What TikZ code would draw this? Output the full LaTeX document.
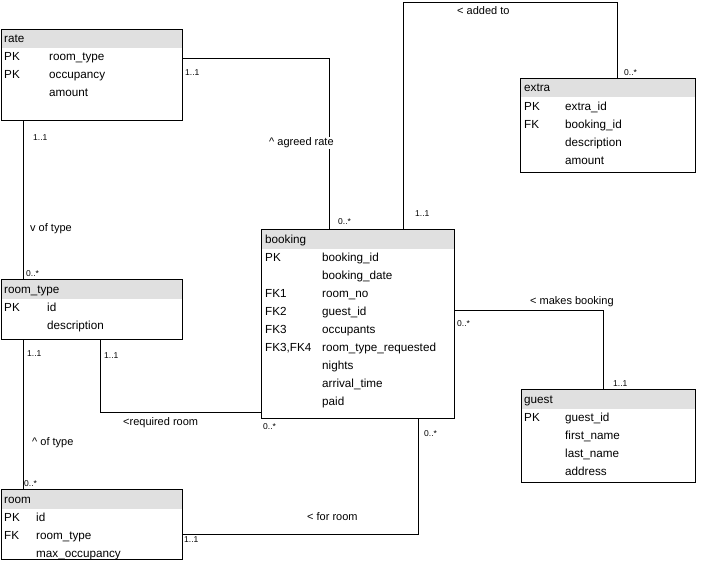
\documentclass[tikz,border=0pt]{standalone}
\usepackage{fontspec}
\setmainfont{Liberation Sans}
\definecolor{hdr}{RGB}{224,224,224}
\begin{document}
\begin{tikzpicture}[x=1pt,y=-1pt,
  entity/.style={draw, line width=1pt, inner sep=0pt, anchor=north west,
    path picture={\fill[hdr] (path picture bounding box.north west) rectangle ([yshift=-19pt]path picture bounding box.north east);}},
  fld/.style={anchor=base west, inner sep=0pt, font=\fontsize{11.7}{14}\selectfont},
  lbl/.style={anchor=base west, inner sep=0pt, font=\fontsize{11}{13}\selectfont},
  mult/.style={anchor=base west, inner sep=0pt, font=\fontsize{8.5}{10}\selectfont},
  conn/.style={line width=1pt}]
\useasboundingbox (0,0) rectangle (703,561);

% entities
\node[entity, minimum width=181pt, minimum height=91pt] (rate) at (1,29) {};
\node[entity, minimum width=175pt, minimum height=94pt] (extra) at (520,78) {};
\node[entity, minimum width=193pt, minimum height=189pt] (booking) at (261,229) {};
\node[entity, minimum width=174pt, minimum height=93pt] (guest) at (521,389) {};
\node[entity, minimum width=181pt, minimum height=60pt] (room_type) at (1,279) {};
\node[entity, minimum width=181pt, minimum height=70pt] (room) at (1,489) {};

% rate
\node[fld] (rate-t) at (4,43) {rate};
\node[fld] (rate-k1) at (4,61) {PK};
\node[fld] (rate-f1) at (49,61) {room\_type};
\node[fld] (rate-k2) at (4,79) {PK};
\node[fld] (rate-f2) at (49,79) {occupancy};
\node[fld] (rate-f3) at (49,97) {amount};

% extra
\node[fld] (extra-t) at (524,92) {extra};
\node[fld] (extra-k1) at (524,111) {PK};
\node[fld] (extra-f1) at (565,111) {extra\_id};
\node[fld] (extra-k2) at (524,129) {FK};
\node[fld] (extra-f2) at (565,129) {booking\_id};
\node[fld] (extra-f3) at (565,147) {description};
\node[fld] (extra-f4) at (565,165) {amount};

% booking
\node[fld] (booking-t) at (265,243) {booking};
\node[fld] (booking-k1) at (265,261) {PK};
\node[fld] (booking-f1) at (322,261) {booking\_id};
\node[fld] (booking-f2) at (322,279) {booking\_date};
\node[fld] (booking-k3) at (265,297) {FK1};
\node[fld] (booking-f3) at (322,297) {room\_no};
\node[fld] (booking-k4) at (265,315) {FK2};
\node[fld] (booking-f4) at (322,315) {guest\_id};
\node[fld] (booking-k5) at (265,333) {FK3};
\node[fld] (booking-f5) at (322,333) {occupants};
\node[fld] (booking-k6) at (265,351) {FK3,FK4};
\node[fld] (booking-f6) at (322,351) {room\_type\_requested};
\node[fld] (booking-f7) at (322,369) {nights};
\node[fld] (booking-f8) at (322,387) {arrival\_time};
\node[fld] (booking-f9) at (322,405) {paid};

% guest
\node[fld] (guest-t) at (524,403) {guest};
\node[fld] (guest-k1) at (524,421) {PK};
\node[fld] (guest-f1) at (565,421) {guest\_id};
\node[fld] (guest-f2) at (565,439) {first\_name};
\node[fld] (guest-f3) at (565,457) {last\_name};
\node[fld] (guest-f4) at (565,475) {address};

% room_type
\node[fld] (rt-t) at (4,293) {room\_type};
\node[fld] (rt-k1) at (4,311) {PK};
\node[fld] (rt-f1) at (47,311) {id};
\node[fld] (rt-f2) at (47,329) {description};

% room
\node[fld] (room-t) at (4,503) {room};
\node[fld] (room-k1) at (4,521) {PK};
\node[fld] (room-f1) at (36,521) {id};
\node[fld] (room-k2) at (4,539) {FK};
\node[fld] (room-f2) at (36,539) {room\_type};
\node[fld] (room-f3) at (36,557) {max\_occupancy};

% connectors
\coordinate (addtop) at (0,3);
\draw[conn] (rate.east |- 0,59) -| (booking.north -| 329,0);
\draw[conn] (rate.south -| 23,0) -- (room_type.north -| 23,0);
\draw[conn] (room_type.south -| 23,0) -- (room.north -| 23,0);
\draw[conn] (room_type.south -| 100,0) |- (booking.west |- 0,412);
\draw[conn] (room.east |- 0,534) -| (booking.south -| 418,0);
\draw[conn] (booking.north -| 403,0) -- (addtop -| 403,0) -| (extra.north -| 617,0);
\draw[conn] (booking.east |- 0,310) -| (guest.north -| 603,0);

% connector labels
\node[lbl, fill=white, inner sep=1pt] (l-agreed) at (268,146) {\textasciicircum{} agreed rate};
\node[lbl] (l-vtype) at (30,231) {v of type};
\node[lbl] (l-oftype) at (32,445) {\textasciicircum{} of type};
\node[lbl] (l-req) at (123,425) {<required room};
\node[lbl] (l-forroom) at (307,520) {< for room};
\node[lbl] (l-added) at (457,15) {< added to};
\node[lbl] (l-makes) at (530,304) {< makes booking};

% multiplicities
\node[mult] (m1) at (185,76) {1..1};
\node[mult] (m2) at (338,224) {0..*};
\node[mult] (m3) at (33,141) {1..1};
\node[mult] (m4) at (26,276) {0..*};
\node[mult] (m5) at (27,356) {1..1};
\node[mult] (m6) at (24,486) {0..*};
\node[mult] (m7) at (104,358) {1..1};
\node[mult] (m8) at (263,429) {0..*};
\node[mult, fill=white, inner sep=1pt] (m9) at (183,542) {1..1};
\node[mult] (m10) at (424,436) {0..*};
\node[mult] (m11) at (415,216) {1..1};
\node[mult] (m12) at (624,76) {0..*};
\node[mult] (m13) at (457,326) {0..*};
\node[mult] (m14) at (613,386) {1..1};
\end{tikzpicture}
\end{document}
